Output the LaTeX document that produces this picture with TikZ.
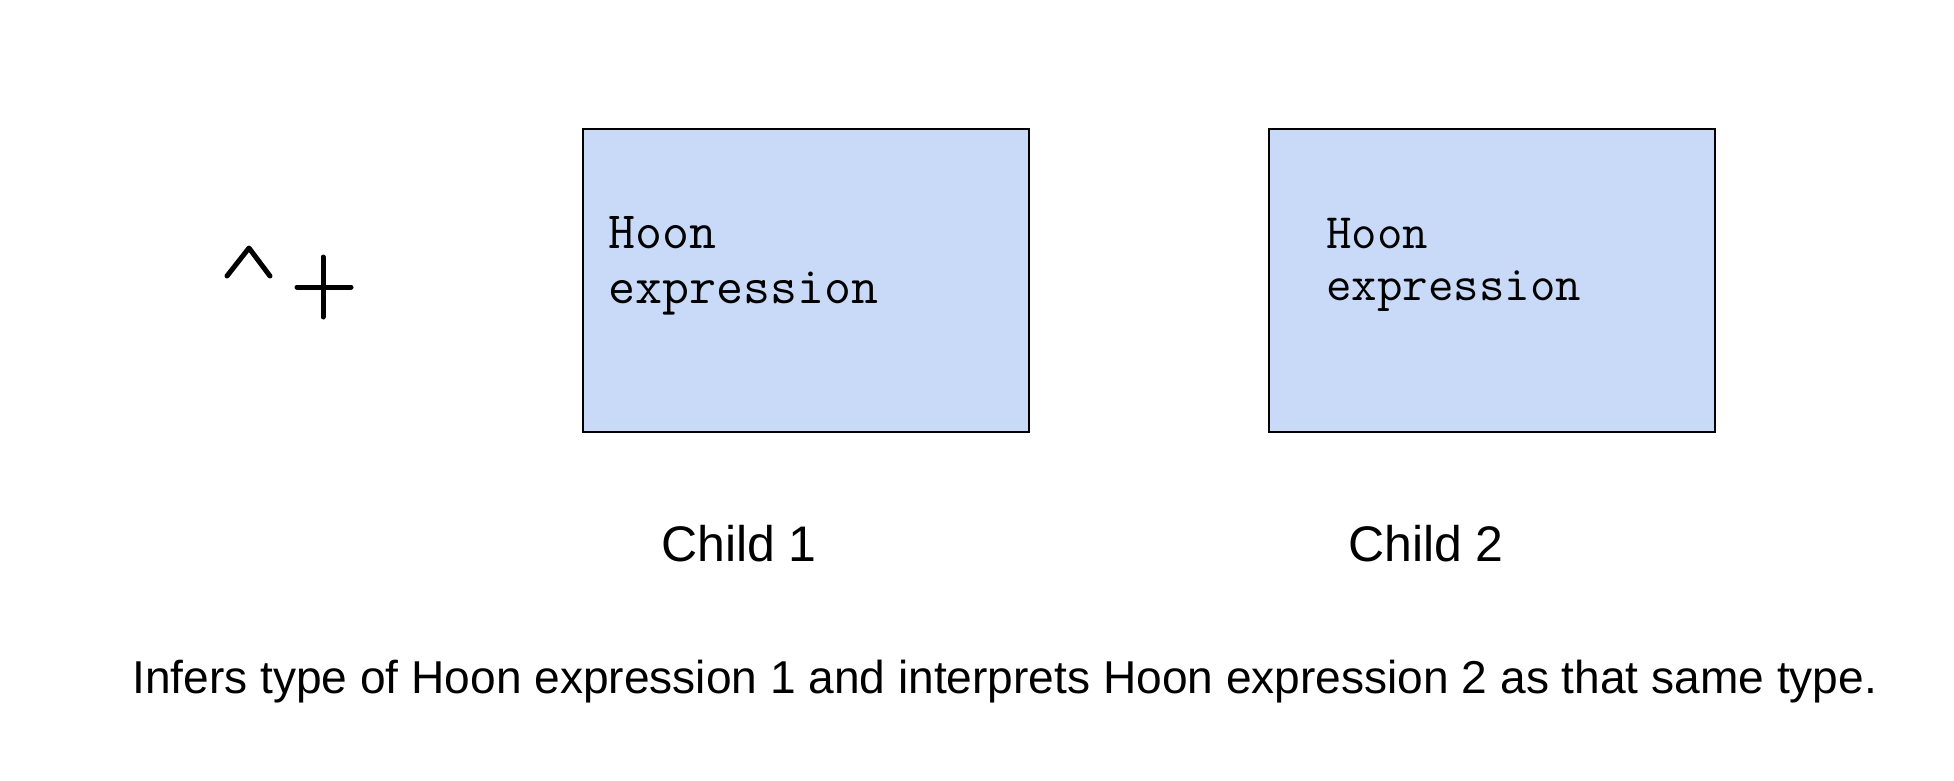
\documentclass[tikz,border=0pt]{standalone}
\usepackage{fontspec}
\setmainfont{Liberation Sans}
\definecolor{boxfill}{HTML}{C9DAF8}
\begin{document}
\begin{tikzpicture}[x=1pt,y=-1pt,
  exprbox/.style={draw=black, fill=boxfill, line width=2.5pt, inner sep=0pt,
    minimum width=446pt, minimum height=303pt},
  codeA/.style={anchor=base west, inner sep=0pt, font=\ttfamily\fontsize{52.4}{58}\selectfont},
  codeB/.style={anchor=base west, inner sep=0pt, font=\ttfamily\fontsize{49.5}{55}\selectfont},
  childlabel/.style={anchor=base west, inner sep=0pt, font=\fontsize{50}{58}\selectfont},
  caption/.style={anchor=base west, inner sep=0pt, font=\fontsize{46.1}{52}\selectfont},
  rune/.style={line width=5pt, line cap=round, line join=round}]
  \useasboundingbox (0,0) rectangle (1954,780);

  % rune ^+
  \coordinate (caretL) at (227,276);
  \coordinate (caretT) at (249,248);
  \coordinate (caretR) at (270,276);
  \draw[rune] (caretL) -- (caretT) -- (caretR);
  \coordinate (plusW) at (297,287);
  \coordinate (plusE) at (351,287);
  \coordinate (plusN) at (323,257);
  \coordinate (plusS) at (323,317);
  \draw[rune] (plusW) -- (plusE) (plusN) -- (plusS);

  % child boxes
  \node[exprbox] (box1) at (806,280.5) {};
  \node[exprbox] (box2) at (1492,280.5) {};

  \node[codeA] (hoon1) at (608,248) {Hoon};
  \node[codeA] (expr1) at (608,303) {expression};
  \node[codeB] (hoon2) at (1326,248) {Hoon};
  \node[codeB] (expr2) at (1326,300) {expression};

  % labels
  \node[childlabel] (child1) at (661,561) {Child 1};
  \node[childlabel] (child2) at (1348,561) {Child 2};

  \node[caption] (desc) at (132,693) {Infers type of Hoon expression 1 and interprets Hoon expression 2 as that same type.};
\end{tikzpicture}
\end{document}
